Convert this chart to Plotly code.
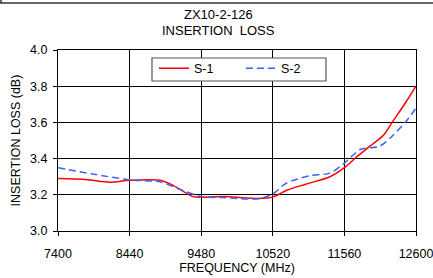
import plotly.graph_objects as go

freq_s1 = [7400, 7800, 8155, 8440, 8882, 9030, 9172, 9363, 9480, 9800, 10310, 10520, 10620, 10720, 11010, 11350, 11560, 11740, 11935, 12130, 12270, 12450, 12600]
loss_s1 = [3.29, 3.285, 3.27, 3.28, 3.28, 3.26, 3.23, 3.19, 3.187, 3.19, 3.18, 3.187, 3.205, 3.225, 3.26, 3.30, 3.35, 3.41, 3.47, 3.53, 3.61, 3.71, 3.80]

freq_s2 = [7400, 7900, 8440, 8900, 9172, 9480, 9800, 10300, 10520, 10720, 11060, 11350, 11560, 11790, 12080, 12270, 12465, 12600]
loss_s2 = [3.35, 3.315, 3.283, 3.27, 3.23, 3.19, 3.185, 3.178, 3.205, 3.265, 3.305, 3.32, 3.375, 3.45, 3.47, 3.53, 3.61, 3.68]

x_ticks = [7400, 8440, 9480, 10520, 11560, 12600]
y_ticks = [3.0, 3.2, 3.4, 3.6, 3.8, 4.0]
title_lines = ["ZX10-2-126", "INSERTION  LOSS"]

font = "Liberation Sans, Arial, sans-serif"
FS = 12.5
PW, PH = 358, 181  # plot area size in px

fig = go.Figure()
fig.add_trace(go.Scatter(x=freq_s1, y=loss_s1, mode="lines", name="S-1",
                         line=dict(color="#ff0000", width=1.5, shape="spline", smoothing=0.8)))
fig.add_trace(go.Scatter(x=freq_s2, y=loss_s2, mode="lines", name="S-2",
                         line=dict(color="#3366ff", width=1.5, dash="7px,4px", shape="spline", smoothing=0.8)))

fig.update_layout(
    width=433, height=278,
    margin=dict(l=58, r=17, t=50, b=47, autoexpand=False),
    paper_bgcolor="white", plot_bgcolor="white",
    font=dict(family=font, size=FS, color="black"),
    showlegend=True,
    legend=dict(orientation="h", x=(154-58)/PW, xanchor="left", y=1-(53.5-50)/PH, yanchor="top",
                bgcolor="rgba(0,0,0,0)", borderwidth=0,
                font=dict(size=FS, family=font), entrywidth=42, itemwidth=30,
                tracegroupgap=0),
    xaxis=dict(range=[7400, 12600], tickvals=x_ticks, ticktext=[str(v) for v in x_ticks],
               showgrid=True, gridcolor="black", gridwidth=1, automargin=False,
               showline=True, linecolor="black", linewidth=1, mirror=True,
               ticks="outside", ticklen=4, tickcolor="black", zeroline=False,
               ticklabelstandoff=7, ticklabeloverflow="allow",
               title=dict(text="FREQUENCY (MHz)", font=dict(size=FS), standoff=2)),
    yaxis=dict(range=[3.0, 4.0], tickvals=y_ticks, ticktext=["%.1f" % v for v in y_ticks],
               showgrid=True, gridcolor="black", gridwidth=1, automargin=False,
               showline=True, linecolor="black", linewidth=1, mirror=True,
               ticks="outside", ticklen=4, tickcolor="black", zeroline=False,
               ticklabelstandoff=3, ticklabeloverflow="allow",
               title=dict(text="INSERTION LOSS (dB)", font=dict(size=FS), standoff=6)),
)

# legend frame (white box covering gridlines)
fig.add_shape(type="rect", xref="paper", yref="paper", layer="above",
              x0=(152-58)/PW, x1=(326-58)/PW, y0=1-(81-50)/PH, y1=1-(58-50)/PH,
              fillcolor="white", line=dict(color="#555555", width=1.2))

# title lines
for txt, py in zip(title_lines, [15, 31]):
    fig.add_annotation(text=txt, xref="paper", yref="paper", x=(218-58)/PW,
                       y=1+(50-py)/PH, xanchor="center", yanchor="middle",
                       showarrow=False, font=dict(size=FS + 0.5, family=font))

# frame edge at top of image
fig.add_shape(type="line", xref="paper", yref="paper",
              x0=-58/PW, x1=(433-58)/PW, y0=1+(50-3)/PH, y1=1+(50-3)/PH,
              line=dict(color="#333333", width=1.5))
fig.add_shape(type="line", xref="paper", yref="paper",
              x0=-57/PW, x1=-57/PW, y0=1+(50-3)/PH, y1=1+50/PH,
              line=dict(color="#333333", width=1.5))

fig.write_html("out.html", config={"displayModeBar": False},
               post_script="document.body.style.margin='0';")
